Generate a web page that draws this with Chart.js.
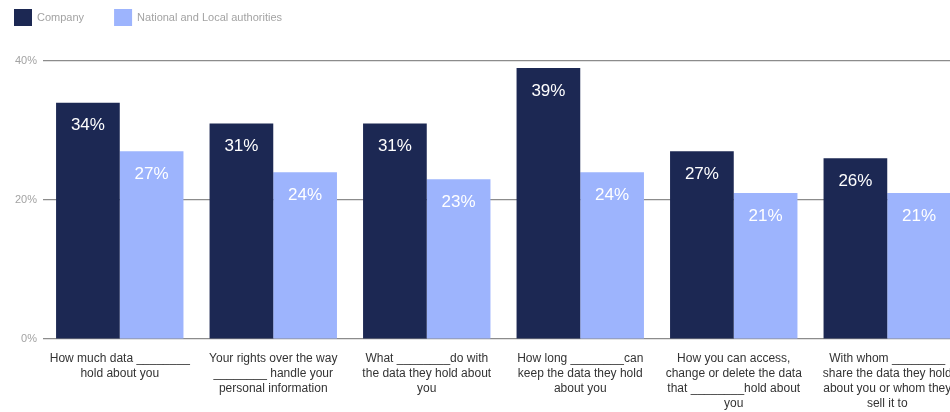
<!DOCTYPE html>
<html><head><meta charset="utf-8">
<script src="https://cdn.jsdelivr.net/npm/chart.js@4/dist/chart.umd.min.js"></script>
<style>html,body{margin:0;padding:0;background:#fff;overflow:hidden;width:950px;height:412px}#wrap{width:965px;height:412px}</style>
</head><body><div id="wrap"><canvas id="c" width="965" height="412"></canvas></div>
<script>
const categories = [
  ["How much data ________", "hold about you"],
  ["Your rights over the way", "________ handle your", "personal information"],
  ["What ________do with", "the data they hold about", "you"],
  ["How long ________can", "keep the data they hold", "about you"],
  ["How you can access,", "change or delete the data", "that ________hold about", "you"],
  ["With whom ________", "share the data they hold", "about you or whom they", "sell it to"]
];
const seriesNames = ["Company", "National and Local authorities"];
const companyValues = [34, 31, 31, 39, 27, 26];
const authorityValues = [27, 24, 23, 24, 21, 21];
const yTicks = [0, 20, 40];

const FONT = "'Liberation Sans', Arial, sans-serif";

const valueLabels = {
  id: 'valueLabels',
  afterDatasetsDraw(chart) {
    const ctx = chart.ctx;
    ctx.save();
    ctx.fillStyle = '#ffffff';
    ctx.font = "17px " + FONT;
    ctx.textAlign = 'center';
    ctx.textBaseline = 'middle';
    chart.data.datasets.forEach((ds, i) => {
      chart.getDatasetMeta(i).data.forEach((bar, j) => {
        ctx.fillText(ds.data[j] + '%', bar.x, bar.y + 23);
      });
    });
    ctx.restore();
  }
};

const topLegend = {
  id: 'topLegend',
  afterDraw(chart) {
    const ctx = chart.ctx;
    ctx.save();
    ctx.font = "11px " + FONT;
    ctx.textBaseline = 'middle';
    ctx.textAlign = 'left';
    let x = 14;
    chart.data.datasets.forEach(ds => {
      ctx.fillStyle = ds.backgroundColor;
      ctx.fillRect(x, 9, 18, 17);
      ctx.fillStyle = '#a3a3a3';
      ctx.fillText(ds.label, x + 23, 18);
      x += 23 + ctx.measureText(ds.label).width + 30;
    });
    ctx.restore();
  }
};

new Chart(document.getElementById('c'), {
  type: 'bar',
  data: {
    labels: categories,
    datasets: [
      { label: seriesNames[0], data: companyValues, backgroundColor: '#1c2853', categoryPercentage: 0.83, barPercentage: 1.0 },
      { label: seriesNames[1], data: authorityValues, backgroundColor: '#9db4fd', categoryPercentage: 0.83, barPercentage: 1.0 }
    ]
  },
  options: {
    responsive: false,
    animation: false,
    layout: { padding: { left: 9, right: 1, top: 61, bottom: -3 } },
    plugins: {
      legend: { display: false },
      tooltip: { enabled: false }
    },
    scales: {
      x: {
        grid: { display: false },
        border: { display: false },
        ticks: { color: '#333333', font: { family: FONT, size: 12, lineHeight: 1.25 }, padding: 4, maxRotation: 0, autoSkip: false }
      },
      y: {
        min: 0, max: 40,
        afterBuildTicks(axis) { axis.ticks = yTicks.map(v => ({ value: v })); },
        grid: { color: '#8c8c8c', lineWidth: 1.2, drawTicks: false },
        border: { display: false },
        ticks: { color: '#a3a3a3', font: { family: FONT, size: 11 }, padding: 6, callback: v => v + '%' }
      }
    }
  },
  plugins: [valueLabels, topLegend]
});
</script>
</body></html>
